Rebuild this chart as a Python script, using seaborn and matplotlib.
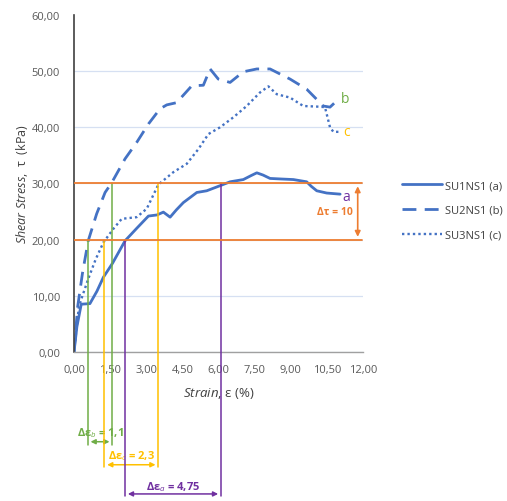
import matplotlib
matplotlib.use("Agg")
import matplotlib.pyplot as plt
import seaborn as sns
from matplotlib.ticker import FuncFormatter

# strain (%) / shear stress (kPa)
strain_a = [0, 0.12, 0.3, 0.66, 0.95, 1.22, 1.6, 2.12, 2.6, 3.09, 3.45, 3.71, 3.99, 4.25, 4.54,
            5.1, 5.51, 6.06, 6.48, 7.03, 7.35, 7.59, 7.85, 8.14, 8.6, 9.11, 9.66, 9.85, 10.08, 10.49, 11.05]
stress_a = [0, 4.5, 8.5, 8.6, 10.8, 13.3, 15.8, 19.8, 22.0, 24.2, 24.4, 24.9, 24.0, 25.3, 26.6,
            28.4, 28.7, 29.6, 30.3, 30.7, 31.4, 31.9, 31.5, 30.9, 30.8, 30.7, 30.3, 29.5, 28.7, 28.3, 28.1]

strain_b = [0, 0.15, 0.35, 0.59, 0.94, 1.29, 1.56, 2.12, 2.6, 3.09, 3.57, 3.85, 4.26, 4.89, 5.37,
            5.65, 5.99, 6.48, 7.03, 7.59, 8.14, 8.97, 9.66, 10.35, 10.63, 11.05]
stress_b = [0, 8.0, 14.0, 19.8, 24.6, 28.4, 30.1, 34.4, 37.3, 40.6, 43.3, 44.0, 44.4, 47.4, 47.5,
            50.4, 48.6, 48.0, 49.9, 50.4, 50.4, 48.6, 46.8, 43.8, 43.6, 45.3]

strain_c = [0, 0.2, 0.35, 0.59, 0.9, 1.22, 1.63, 1.98, 2.6, 3.02, 3.5, 4.12, 4.68, 5.16, 5.58,
            6.06, 6.62, 7.17, 7.72, 8.07, 8.42, 8.97, 9.52, 10.08, 10.42, 10.63, 10.77, 11.05]
stress_c = [0, 8.0, 10.0, 13.0, 16.5, 19.5, 21.9, 23.7, 24.0, 25.5, 29.8, 32.0, 33.5, 36.1, 38.8,
            40.0, 41.8, 43.8, 46.2, 47.3, 45.9, 45.3, 43.8, 43.7, 43.6, 40.0, 39.2, 39.2]

series = ["SU1NS1 (a)", "SU2NS1 (b)", "SU3NS1 (c)"]
curve_tags = ["a", "b", "c"]
tag_x = [11.3, 11.25, 11.3]
tag_y = [27.6, 45.2, 39.3]

# strain increments between tau = 20 and tau = 30
tau_low, tau_high = 20, 30
delta_left = [0.57, 1.26, 2.12]
delta_right = [1.59, 3.5, 6.1]
delta_text = ["Δε$_b$ = 1,1", "Δε$_c$ = 2,3", "Δε$_a$ = 4,75"]

blue = "#4472C4"
orange = "#ED7D31"
delta_colors = ["#70AD47", "#FFC000", "#7030A0"]
tag_colors = ["#7030A0", "#70AD47", "#FFC000"]

sns.set_theme(style="white")
plt.rcParams["font.family"] = ["Open Sans", "DejaVu Sans"]
plt.rcParams["mathtext.fontset"] = "custom"
plt.rcParams["mathtext.rm"] = "Open Sans"
plt.rcParams["mathtext.it"] = "Open Sans:italic"
plt.rcParams["mathtext.bf"] = "Open Sans:bold"

fig = plt.figure(figsize=(5.07, 5.02), dpi=100)
ax = fig.add_axes([0.146, 0.297, 0.57, 0.671])

styles = ["-", (0, (5, 3)), (0, (1, 1.3))]
widths = [2, 2, 1.7]
for xs, ys, name, ls, w in zip([strain_a, strain_b, strain_c], [stress_a, stress_b, stress_c],
                               series, styles, widths):
    sns.lineplot(x=xs, y=ys, ax=ax, color=blue, linestyle=ls, lw=w, sort=False,
                 estimator=None, label=name)

ax.set_xlim(0, 12)
ax.set_ylim(0, 60)
ax.set_xticks([0, 1.5, 3, 4.5, 6, 7.5, 9, 10.5, 12])
ax.set_yticks(range(0, 61, 10))
fmt = FuncFormatter(lambda v, p: f"{v:.2f}".replace(".", ","))
ax.xaxis.set_major_formatter(fmt)
ax.yaxis.set_major_formatter(fmt)
ax.tick_params(labelsize=8, colors="#595959", length=0)
ax.tick_params(axis="y", pad=10)
ax.tick_params(axis="x", pad=9)
ax.yaxis.grid(True, color="#D6E0F2", lw=0.9)
ax.get_ygridlines()[-1].set_visible(False)
ax.set_axisbelow(True)
for s in ["top", "right"]:
    ax.spines[s].set_visible(False)
ax.spines["left"].set_color("#404040")
ax.spines["left"].set_linewidth(1.2)
ax.spines["bottom"].set_color("#A0A0A0")
ax.spines["bottom"].set_linewidth(1.0)

ax.set_ylabel("$\\it{Shear\\ Stress}$,  τ  (kPa)", fontsize=9, color="#404040", labelpad=1)
ax.set_xlabel("$\\it{Strain}$, ε (%)", fontsize=9.5, color="#404040", labelpad=7)

# tau bounds
for t in [tau_low, tau_high]:
    ax.plot([0, 11.95], [t, t], color=orange, lw=1.3, zorder=4)
ax.annotate("", xy=(11.78, tau_low), xytext=(11.78, tau_high),
            arrowprops=dict(arrowstyle="<|-|>", color=orange, lw=1.2, mutation_scale=8))
ax.text(10.85, 25, "Δτ = 10", color=orange, fontsize=7.5, fontweight="bold", ha="center", va="center")

for tag, x, y, c in zip(curve_tags, tag_x, tag_y, tag_colors):
    ax.text(x, y, tag, color=c, fontsize=10, ha="center", va="center")

# strain increment brackets, below the axis
line_bottom = [-16.6, -20.5, -25.6]
arrow_y = [-16.0, -20.1, -25.3]
text_y = [-14.3, -18.4, -23.9]
for xl, xr, lab, c, yb, ya, yt in zip(delta_left, delta_right, delta_text, delta_colors,
                                       line_bottom, arrow_y, text_y):
    ax.plot([xl, xl], [tau_low, yb], color=c, lw=1.1, clip_on=False, zorder=3)
    ax.plot([xr, xr], [tau_high, yb], color=c, lw=1.1, clip_on=False, zorder=3)
    ax.annotate("", xy=(xl, ya), xytext=(xr, ya), annotation_clip=False,
                arrowprops=dict(arrowstyle="<|-|>", color=c, lw=1.1, mutation_scale=7))
    ax.text((xl + xr) / 2, yt, lab, color=c, fontsize=8, fontweight="bold",
            ha="center", va="center", clip_on=False)

leg = ax.legend(loc="center left", bbox_to_anchor=(1.1, 0.42), frameon=False,
                fontsize=8, handlelength=3.6, labelspacing=1.25, handletextpad=0.3)
for t in leg.get_texts():
    t.set_color("#404040")

fig.savefig("out.png", dpi=100)
